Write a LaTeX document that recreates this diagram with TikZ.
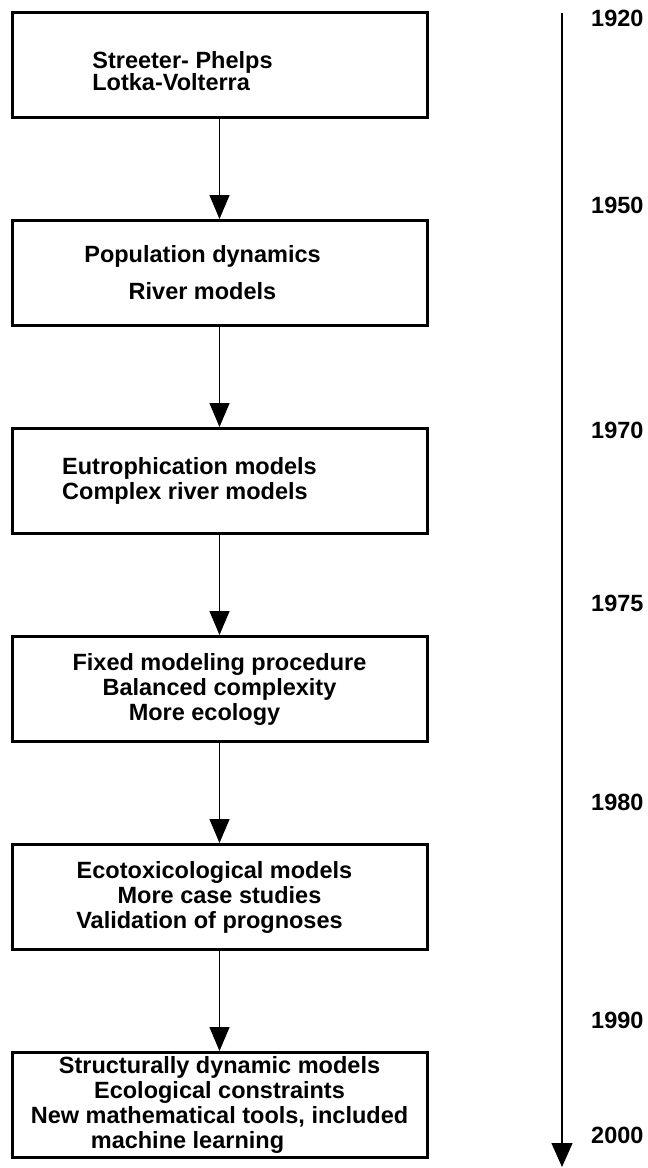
\documentclass[tikz,border=0pt]{standalone}
\usepackage{fontspec}
\setmainfont{Liberation Sans}
\usetikzlibrary{arrows.meta, positioning}

\tikzset{
  stage/.style={rectangle, draw, line width=3pt, minimum width=415pt, minimum height=105pt, align=center, font=\fontsize{23.5}{25}\selectfont\bfseries},
  year/.style={anchor=west, inner sep=0pt, font=\fontsize{23.5}{25}\selectfont\bfseries},
  flow/.style={-{Triangle[length=24pt,width=20pt]}, line width=1.3pt},
}

\begin{document}
\begin{tikzpicture}[x=1pt, y=-1pt, node distance=100pt]
\useasboundingbox (0,0) rectangle (648,1168);

% model stages
\node (classic) [stage, align=left] at (219.5,65) {\rule{0pt}{30pt}Streeter- Phelps\hspace*{74pt}\\[-3pt]Lotka-Volterra};
\node (population) [stage, below=of classic] {Population dynamics\hspace*{34pt}\\[12pt]River models\hspace*{34pt}};
\node (eutro) [stage, align=left, below=of population] {Eutrophication models\hspace*{60pt}\\Complex river models};
\node (procedure) [stage, below=of eutro] {Fixed modeling procedure\\Balanced complexity\hspace*{20pt}\\More ecology\hspace*{30pt}};
\node (ecotox) [stage, below=of procedure] {Ecotoxicological models\hspace*{10pt}\\More case studies\hspace*{30pt}\\Validation of prognoses\hspace*{20pt}};
\node (structural) [stage, below=of ecotox] {Structurally dynamic models\\Ecological constraints\hspace*{10pt}\\New mathematical tools, included\\machine learning\hspace*{64pt}};

\draw [flow] (classic) -- (population);
\draw [flow] (population) -- (eutro);
\draw [flow] (eutro) -- (procedure);
\draw [flow] (procedure) -- (ecotox);
\draw [flow] (ecotox) -- (structural);

% time axis
\coordinate (tstart) at (562,13);
\coordinate (tend) at (562,1167);
\draw [-{Triangle[length=24pt,width=21pt]}, line width=1.3pt] (tstart) -- (tend);

\node (y1920) [year] at (591,18) {1920};
\node (y1950) [year] at (591,205) {1950};
\node (y1970) [year] at (591,430) {1970};
\node (y1975) [year] at (591,603) {1975};
\node (y1980) [year] at (591,802) {1980};
\node (y1990) [year] at (591,1020) {1990};
\node (y2000) [year] at (591,1135) {2000};
\end{tikzpicture}
\end{document}
